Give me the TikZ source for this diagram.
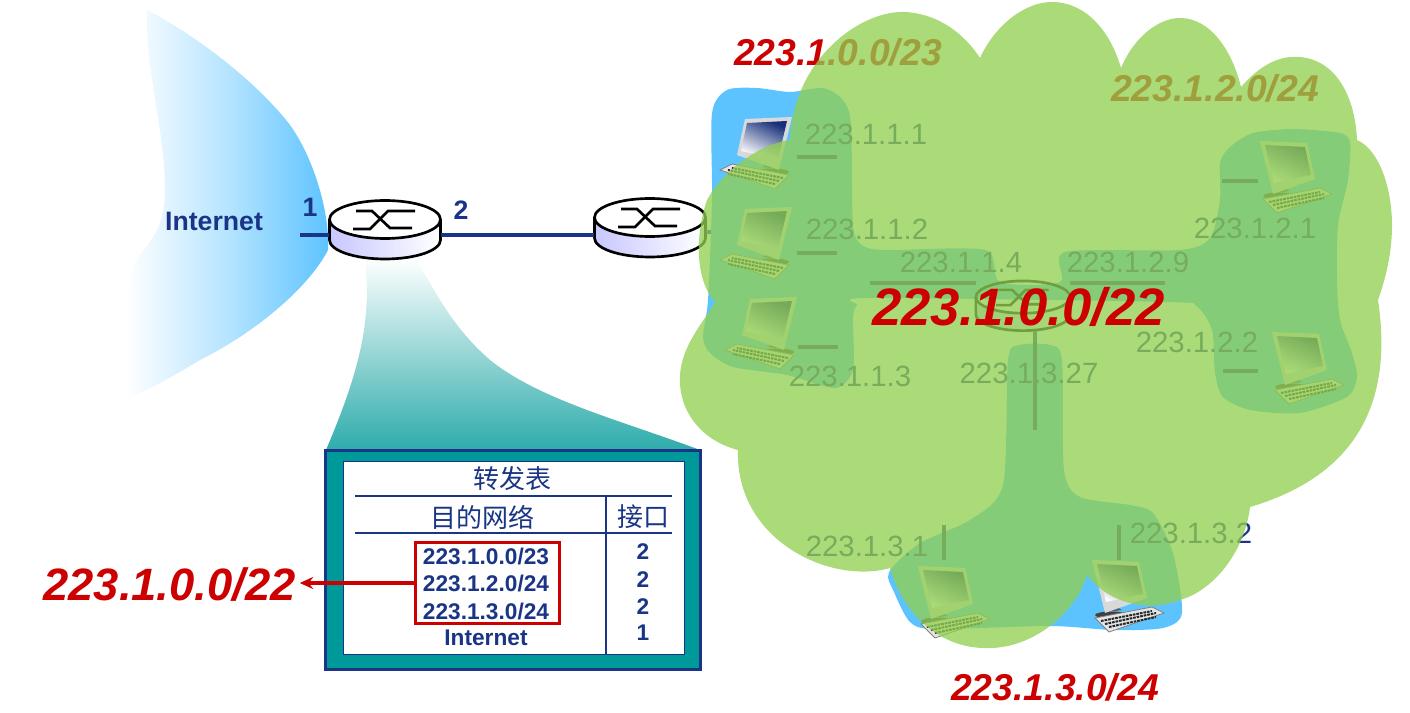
\documentclass[tikz,border=0pt]{standalone}
\usepackage{xcolor}
\usepackage{fontspec}
\setmainfont{Liberation Sans}
\newfontfamily\cjk{Noto Sans CJK SC}
\usetikzlibrary{arrows.meta}

\definecolor{navy}{HTML}{1A3586}
\definecolor{subnetred}{HTML}{CC0000}
\definecolor{skyblue}{HTML}{5CC3FF}
\definecolor{tealbox}{HTML}{009999}
\definecolor{cloudgreen}{HTML}{92D050}

\tikzset{
    every node/.style={inner sep=0pt},
    lanline/.style={draw=navy, line width=2.4pt},
    routerbox/.style={rectangle},
    routerline/.style={line width=2pt, black},
    hostlabel/.style={navy, font=\fontsize{22}{24}\selectfont},
    subnetlabel/.style={subnetred, font=\fontsize{28}{30}\selectfont\bfseries\itshape},
    portlabel/.style={navy, font=\fontsize{20}{22}\selectfont\bfseries},
    rowlabel/.style={navy, font=\fontsize{17}{19}\selectfont\bfseries},
    headlabel/.style={navy, font=\cjk\fontsize{19.5}{21}\selectfont},
    pcicon/.pic={
        \fill[black!65] (7,23) -- (20,45) -- (30,50) -- (13,52) -- cycle;
        \fill[black!75] (20,55) ellipse [x radius=17, y radius=3.5];
        \fill[black!15] (0,0) -- (47,2) -- (55,38) -- (13,53) -- cycle;
        \shade[left color=navy!90!black, right color=white, shading angle=-25] (5,4) -- (45,6) -- (51,34) -- (14,42) -- cycle;
        \draw[black!50, fill=black!10, line width=0.6pt] (3,58) -- (60,47) -- (72,53) -- (17,72) -- cycle;
        \draw[black!85, line width=1.5pt, dash pattern=on 2pt off 0.7pt] (9,61) -- (60,51);
        \draw[black!85, line width=1.5pt, dash pattern=on 2pt off 0.7pt] (13,64) -- (64,53);
        \draw[black!85, line width=1.5pt, dash pattern=on 2pt off 0.7pt] (17,67) -- (64,57);
    }
}

% name, x, y, scale
\newcommand{\routericon}[4]{
    \node[routerbox, minimum width={83.25pt*#4}, minimum height={43.5pt*#4}] (#1) at (#2,#3) {};
    \begin{scope}[shift={(#2,#3)}, scale=#4]
        \shade[left color=blue!22, right color=white] (-55.5,-10.5) -- (-55.5,10) arc[start angle=180, end angle=0, x radius=55.5, y radius=19] -- (55.5,-10.5) arc[start angle=0, end angle=180, x radius=55.5, y radius=19] -- cycle;
        \draw[routerline] (-55.5,-10.5) -- (-55.5,10) arc[start angle=180, end angle=0, x radius=55.5, y radius=19] -- (55.5,-10.5);
        \draw[routerline] (0,-10.5) ellipse [x radius=55.5, y radius=19];
        \draw[routerline] (-29,-19) -- (-13,-19) -- (5,-2) -- (27,-2);
        \draw[routerline] (-32,-1) -- (-15,-1) -- (3,-19) -- (30,-19);
    \end{scope}
}

\begin{document}
\begin{tikzpicture}[x=0.75pt, y=-0.75pt]
    \useasboundingbox (0,0) rectangle (1410,713);
    \fill[white] (0,0) rectangle (1410,713);

    % internet cloud
    \shade[left color=white, right color=skyblue, middle color=skyblue!45] (147,10) .. controls (195,35) and (255,80) .. (290,125) .. controls (315,160) and (330,215) .. (328,250) .. controls (310,285) and (260,330) .. (200,360) .. controls (170,378) and (145,392) .. (125,398) .. controls (128,350) and (125,290) .. (135,262) .. controls (150,240) and (165,230) .. (165,190) .. controls (165,130) and (145,70) .. (147,10) -- cycle;

    % funnel
    \shade[top color=white, bottom color=tealbox!82!white] (365,258) .. controls (372,320) and (360,370) .. (326,450) -- (700,450) .. controls (620,420) and (540,400) .. (490,360) .. controls (450,325) and (435,290) .. (415,258) -- cycle;

    % routers
    \coordinate (netin) at (300,235);
    \routericon{routerA}{385}{230}{1}
    \routericon{routerB}{650}{228}{1}
    \coordinate (stubB) at (720,232);
    \draw[lanline] (netin) -- (netin -| routerA.west);
    \draw[lanline] (routerA.east |- netin) -- (routerB.west |- netin);
    \draw[lanline] (routerB.east |- stubB) -- (stubB);

    \node[portlabel] (internet) at (214,221) {Internet};
    \node[portlabel] (portA) at (310,207) {1};
    \node[portlabel] (portB) at (461,210) {2};

    % table
    \node[draw=navy, fill=tealbox, line width=2.2pt, minimum width=281pt, minimum height=164pt] (tableout) at (513,560) {};
    \node[draw=navy, fill=white, line width=1.1pt, minimum width=256pt, minimum height=145pt] (tablein) at (514,558) {};
    \coordinate (rowA) at (355,496);
    \coordinate (rowB) at (355,533);
    \coordinate (rowAend) at (672,496);
    \coordinate (rowBend) at (672,533);
    \coordinate (colA) at (606,495);
    \draw[navy, line width=1pt] (rowA) -- (rowAend);
    \draw[navy, line width=1pt] (rowB) -- (rowBend);
    \draw[navy, line width=1pt] (colA) -- (colA |- tablein.south);
    \node[headlabel] (title) at (512,479) {转发表};
    \node[headlabel] (headnet) at (482,517) {目的网络};
    \node[headlabel] (headport) at (643,517) {接口};
    \node[rowlabel] (netA) at (486,557) {223.1.0.0/23};
    \node[rowlabel] (netB) at (486,584) {223.1.2.0/24};
    \node[rowlabel] (netC) at (486,612) {223.1.3.0/24};
    \node[rowlabel] (netD) at (486,638) {Internet};
    \node[rowlabel] (ifA) at (643,552) {2};
    \node[rowlabel] (ifB) at (643,580) {2};
    \node[rowlabel] (ifC) at (643,607) {2};
    \node[rowlabel] (ifD) at (643,633) {1};
    \node[draw=subnetred, line width=2.2pt, minimum width=108pt, minimum height=61pt] (redbox) at (487.5,583) {};
    \node[subnetlabel, font=\fontsize{34}{36}\selectfont\bfseries\itshape] (aggleft) at (169.5,585) {223.1.0.0/22};
    \draw[subnetred, line width=2.4pt, shorten >=3pt, -{Stealth[length=10pt, width=9pt]}] (redbox.west) -- (aggleft.east |- redbox.west);

    % subnets under the cloud
    \fill[skyblue] plot[smooth cycle, tension=0.45] coordinates {(712,113) (727,90) (757,88) (790,92) (823,88) (843,100) (851,125) (853,225) (862,245) (885,250) (985,250) (1000,282) (1060,282) (1065,252) (1180,250) (1210,238) (1220,200) (1220,163) (1230,147) (1253,133) (1293,129) (1340,133) (1350,143) (1348,180) (1338,225) (1337,280) (1340,320) (1352,353) (1357,377) (1347,397) (1300,413) (1250,410) (1223,397) (1215,373) (1212,330) (1196,306) (1165,302) (870,298) (857,305) (853,318) (853,370) (835,388) (787,375) (733,367) (710,353) (703,337) (708,300) (712,200)};
    \fill[skyblue] plot[smooth cycle, tension=0.45] coordinates {(1008,360) (1020,345) (1050,345) (1062,360) (1064,470) (1080,497) (1130,505) (1153,513) (1173,553) (1182,613) (1163,628) (1113,630) (1050,626) (935,629) (910,622) (894,592) (889,572) (920,543) (970,520) (1003,485)};

    % hosts
    \foreach \hx/\hy in {792/117, 792/207, 797/297} {
        \pic[xscale=-1] at (\hx,\hy) {pcicon};
    }
    \foreach \hx/\hy in {1260/141, 1272/332, 918/566, 1092/560} {
        \pic at (\hx,\hy) {pcicon};
    }
    \foreach \hname/\ax/\ay/\bx/\by in {hA/797/157/837/157, hB/797/253/837/253, hC/798/347/838/347, hD/1222/181/1258/181, hE/1223/371/1258/371, hF/944/525/944/560, hG/1119/525/1119/560} {
        \coordinate (\hname a) at (\ax,\ay);
        \coordinate (\hname b) at (\bx,\by);
        \draw[lanline] (\hname a) -- (\hname b);
    }

    % middle router
    \routericon{routerC}{1023}{306}{0.85}
    \coordinate (lanL) at (870,283);
    \coordinate (lanR) at (1165,283);
    \coordinate (lanS) at (1035,430);
    \draw[lanline] (lanL) -- (lanL -| routerC.west);
    \draw[lanline] (lanR) -- (lanR -| routerC.east);
    \draw[lanline] (lanS) -- (lanS |- routerC.south);

    \node[hostlabel] (ipA) at (866,134) {223.1.1.1};
    \node[hostlabel] (ipB) at (867,229) {223.1.1.2};
    \node[hostlabel] (ipC) at (850,376) {223.1.1.3};
    \node[hostlabel] (ipD) at (961,262) {223.1.1.4};
    \node[hostlabel] (ipE) at (1128,262) {223.1.2.9};
    \node[hostlabel] (ipF) at (1255,228) {223.1.2.1};
    \node[hostlabel] (ipG) at (1197,342) {223.1.2.2};
    \node[hostlabel] (ipH) at (1029,373) {223.1.3.27};
    \node[hostlabel] (ipI) at (867,546) {223.1.3.1};
    \node[hostlabel] (ipJ) at (1191,533) {223.1.3.2};
    \node[subnetlabel] (subA) at (838,52) {223.1.0.0/23};
    \node[subnetlabel] (subB) at (1215,88) {223.1.2.0/24};
    \node[subnetlabel] (subC) at (1055,687) {223.1.3.0/24};

    % green cloud
    \fill[cloudgreen, fill opacity=0.77] (790,140) .. controls (793,60) and (860,10) .. (905,12) .. controls (940,14) and (965,35) .. (980,58) .. controls (995,25) and (1025,2) .. (1052,2) .. controls (1085,2) and (1110,30) .. (1121,68) .. controls (1135,35) and (1160,18) .. (1180,18) .. controls (1210,18) and (1232,50) .. (1241,87) .. controls (1260,65) and (1280,55) .. (1300,57) .. controls (1335,60) and (1355,95) .. (1357,140) .. controls (1380,150) and (1392,190) .. (1392,225) .. controls (1392,255) and (1385,280) .. (1378,300) .. controls (1390,380) and (1375,470) .. (1250,507) .. controls (1245,550) and (1215,590) .. (1180,600) .. controls (1150,612) and (1110,605) .. (1087,575) .. controls (1075,615) and (1030,650) .. (985,648) .. controls (945,648) and (905,620) .. (890,568) .. controls (830,585) and (735,540) .. (738,450) .. controls (700,440) and (678,410) .. (680,375) .. controls (682,345) and (703,323) .. (715,302) .. controls (695,280) and (695,235) .. (707,200) .. controls (720,175) and (755,145) .. (790,140) -- cycle;

    \node[subnetlabel, font=\fontsize{39.5}{41}\selectfont\bfseries\itshape] (aggmain) at (1018.5,307) {223.1.0.0/22};
\end{tikzpicture}
\end{document}
